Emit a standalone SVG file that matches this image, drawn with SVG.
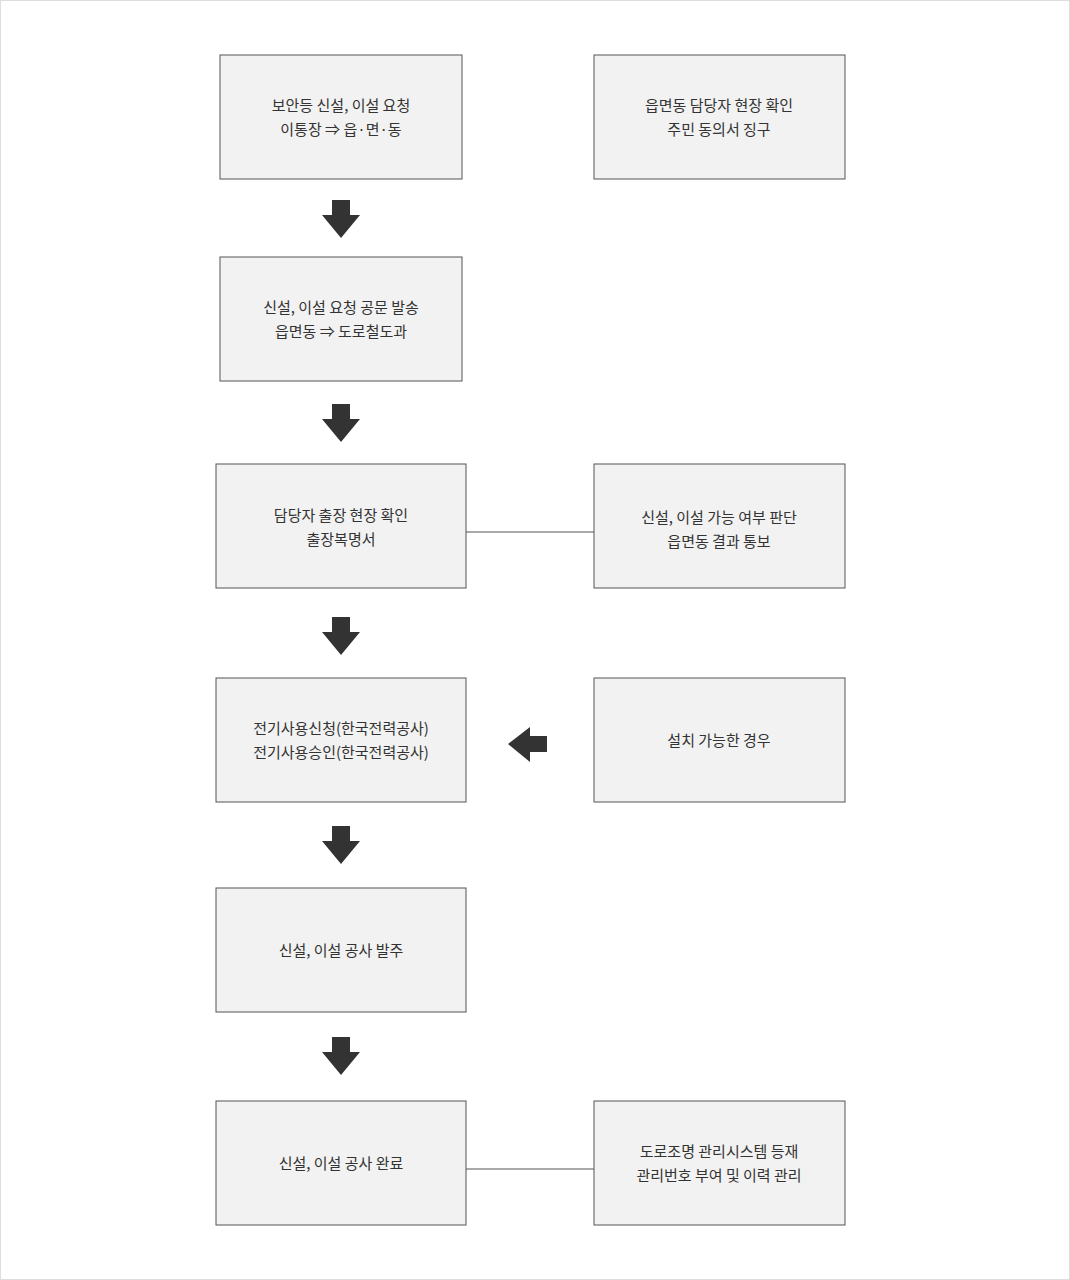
<svg xmlns="http://www.w3.org/2000/svg" width="1070" height="1280" viewBox="0 0 1070 1280">
<style>
.b{fill:#f2f2f2;stroke:#555;stroke-width:1}
.t{font-family:"Noto Sans CJK KR","Noto Sans",sans-serif;font-size:15px;fill:#333;text-anchor:middle}
.c{stroke:#555;stroke-width:1;fill:none}
.a{fill:#333}
</style>
<defs>
<path id="dn" d="M332,0 H350 V15 H360 L341,38 L322,15 H332 Z" transform="translate(0,0)"/>
</defs>
<rect x="0.5" y="0.5" width="1069" height="1279" fill="#fff" stroke="#ddd"/>
<g id="n1"><rect class="b" x="220" y="55" width="242" height="124"/><text class="t" x="341" y="111">보안등 신설, 이설 요청</text><text class="t" x="341" y="135">이통장 ⇒ 읍·면·동</text></g>
<g id="n2"><rect class="b" x="594" y="55" width="251" height="124"/><text class="t" x="719" y="111">읍면동 담당자 현장 확인</text><text class="t" x="719" y="135">주민 동의서 징구</text></g>
<g id="n3"><rect class="b" x="220" y="257" width="242" height="124"/><text class="t" x="341" y="313">신설, 이설 요청 공문 발송</text><text class="t" x="341" y="337">읍면동 ⇒ 도로철도과</text></g>
<g id="n4"><rect class="b" x="216" y="464" width="250" height="124"/><text class="t" x="341" y="521">담당자 출장 현장 확인</text><text class="t" x="341" y="545">출장복명서</text></g>
<g id="n5"><rect class="b" x="594" y="464" width="251" height="124"/><text class="t" x="719" y="523">신설, 이설 가능 여부 판단</text><text class="t" x="719" y="547">읍면동 결과 통보</text></g>
<g id="n6"><rect class="b" x="216" y="678" width="250" height="124"/><text class="t" x="341" y="734">전기사용신청(한국전력공사)</text><text class="t" x="341" y="758">전기사용승인(한국전력공사)</text></g>
<g id="n7"><rect class="b" x="594" y="678" width="251" height="124"/><text class="t" x="719" y="746">설치 가능한 경우</text></g>
<g id="n8"><rect class="b" x="216" y="888" width="250" height="124"/><text class="t" x="341" y="956">신설, 이설 공사 발주</text></g>
<g id="n9"><rect class="b" x="216" y="1101" width="250" height="124"/><text class="t" x="341" y="1169">신설, 이설 공사 완료</text></g>
<g id="n10"><rect class="b" x="594" y="1101" width="251" height="124"/><text class="t" x="719" y="1157">도로조명 관리시스템 등재</text><text class="t" x="719" y="1181">관리번호 부여 및 이력 관리</text></g>
<g id="connectors">
<line class="c" x1="466" y1="532" x2="594" y2="532"/>
<line class="c" x1="466" y1="1169" x2="594" y2="1169"/>
<use href="#dn" class="a" y="200"/>
<use href="#dn" class="a" y="404"/>
<use href="#dn" class="a" y="617"/>
<use href="#dn" class="a" y="826"/>
<use href="#dn" class="a" y="1037"/>
<path class="a" d="M547,736 V752 H530 V762 L508,744 L530,727 V736 Z"/>
</g>
</svg>
